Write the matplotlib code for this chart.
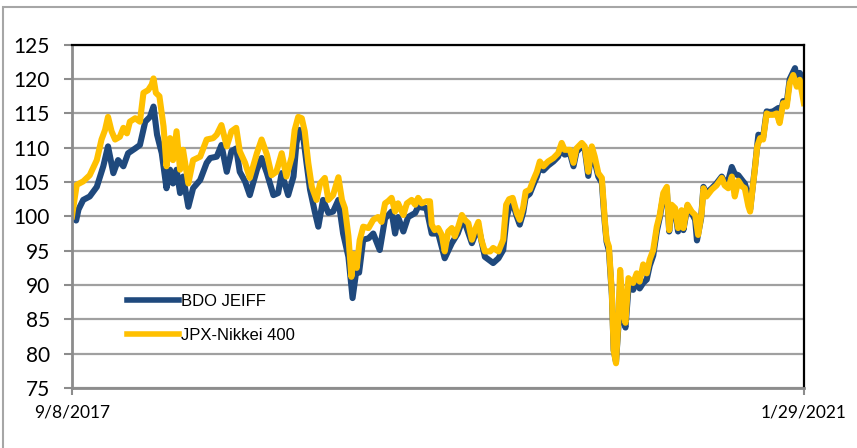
import matplotlib
matplotlib.use('Agg')
import matplotlib.pyplot as plt
import numpy as np
import pandas as pd
from matplotlib.patches import Rectangle

start = pd.Timestamp('2017-09-08')
end = pd.Timestamp('2021-01-29')
tick_labels = ['9/8/2017', '1/29/2021']

# days since 9/8/2017 (index = 100 at start)
jpx_days = [0, 8, 19, 30, 42, 50, 56, 61, 67, 73, 81, 87, 93, 98, 107, 115, 121, 129, 135, 138,
            142, 148, 155, 160, 166, 171, 177, 183, 188, 197, 205, 217, 228, 239, 245, 253, 262, 270,
            278, 284, 293, 301, 313, 321, 330, 338, 346, 355, 363, 372, 377, 383, 389, 394, 400, 406,
            414, 420, 428, 434, 442, 451, 457, 462, 468, 473, 477, 482, 487, 493, 502, 510, 518, 524,
            530, 535, 541, 547, 552, 561, 567, 575, 581, 586, 592, 600, 606, 609, 614, 620, 626, 631,
            637, 643, 648, 654, 660, 665, 671, 677, 682, 688, 693, 699, 708, 713, 722, 730, 735, 740,
            746, 753, 758, 764, 768, 775, 781, 787, 792, 798, 806, 815, 823, 829, 834, 843, 849, 854,
            863, 868, 874, 880, 885, 891, 897, 902, 905, 909, 914, 917, 921, 925, 928, 933, 937, 942,
            950, 956, 961, 967, 973, 978, 984, 990, 995, 1001, 1007, 1011, 1015, 1021, 1026, 1032, 1035,
            1042, 1049, 1055, 1060, 1066, 1069, 1074, 1083, 1091, 1100, 1105, 1111, 1117, 1122, 1128,
            1134, 1139, 1145, 1148, 1152, 1156, 1160, 1165, 1170, 1176, 1181, 1187, 1193, 1198, 1204,
            1210, 1215, 1221, 1227, 1232, 1239]
jpx_vals = [100.0, 104.6, 105.1, 106.0, 108.2, 111.2, 112.6, 114.5, 112.4, 111.2, 111.6, 112.9, 112.1,
            113.8, 114.3, 113.8, 118.0, 118.4, 119.2, 120.1, 118.0, 117.5, 113.1, 107.3, 111.4, 108.2,
            112.4, 106.8, 109.7, 104.8, 108.2, 108.7, 111.2, 111.4, 111.9, 113.3, 110.2, 112.4, 112.9,
            109.5, 107.8, 105.6, 109.2, 111.2, 109.0, 106.0, 106.5, 109.2, 105.8, 108.7, 112.6, 114.5,
            114.3, 112.4, 107.8, 104.3, 102.4, 104.8, 105.6, 102.4, 103.1, 105.7, 102.4, 101.2, 97.1,
            91.2, 94.5, 92.5, 96.5, 98.5, 98.3, 99.5, 99.9, 99.2, 101.9, 102.2, 102.7, 100.7, 101.9,
            100.2, 101.9, 102.4, 101.7, 102.7, 101.9, 102.2, 102.2, 98.8, 98.0, 98.3, 97.3, 94.9, 97.8,
            98.3, 97.1, 98.5, 100.2, 99.5, 99.0, 96.6, 98.0, 99.2, 96.6, 94.9, 94.9, 95.4, 94.9, 96.6,
            101.7, 102.5, 102.7, 100.5, 99.5, 101.4, 103.6, 103.9, 105.3, 106.5, 108.0, 107.3, 108.0,
            108.5, 109.2, 110.7, 109.7, 109.7, 107.8, 109.9, 110.7, 110.2, 106.5, 110.2, 108.7, 106.3,
            105.6, 99.5, 96.6, 95.6, 88.8, 80.5, 78.6, 84.9, 92.2, 86.0, 84.5, 91.0, 90.3, 91.7, 90.5,
            93.0, 91.7, 93.7, 95.1, 98.5, 100.2, 103.4, 104.3, 98.0, 101.7, 101.2, 98.3, 100.9, 98.3,
            101.7, 100.7, 100.2, 97.3, 100.5, 104.1, 102.9, 103.9, 104.5, 105.6, 104.5, 104.1, 105.8,
            102.9, 105.2, 104.4, 104.1, 101.5, 100.7, 103.9, 106.8, 110.2, 111.4, 111.2, 115.0, 114.8,
            114.8, 115.0, 113.6, 116.5, 116.0, 119.4, 120.6, 118.9, 119.9, 116.5]

bdo_days = [0, 7, 11, 19, 30, 42, 53, 61, 70, 78, 87, 95, 107, 115, 124, 132, 138, 144, 152, 160,
            166, 171, 177, 183, 188, 197, 205, 217, 228, 234, 245, 253, 262, 270, 278, 284, 293, 301,
            313, 321, 330, 341, 349, 355, 366, 375, 380, 385, 392, 397, 403, 411, 417, 425, 434, 442,
            451, 459, 468, 475, 482, 486, 493, 502, 510, 521, 530, 541, 547, 552, 561, 569, 581, 586,
            600, 609, 620, 631, 643, 653, 660, 667, 677, 688, 699, 713, 722, 730, 736, 740, 746, 753,
            758, 764, 768, 775, 781, 787, 792, 798, 806, 815, 823, 829, 834, 843, 849, 854, 863, 868,
            874, 880, 885, 891, 897, 902, 905, 909, 914, 917, 921, 925, 928, 933, 937, 942, 950, 956,
            961, 967, 973, 978, 984, 990, 995, 1001, 1007, 1011, 1015, 1021, 1026, 1032, 1035, 1042,
            1049, 1055, 1058, 1065, 1069, 1074, 1083, 1091, 1100, 1105, 1111, 1117, 1122, 1128, 1136,
            1139, 1145, 1148, 1152, 1156, 1162, 1170, 1176, 1181, 1187, 1196, 1198, 1204, 1210, 1215,
            1224, 1227, 1232, 1239]
bdo_vals = [100.0, 99.4, 101.0, 102.4, 102.9, 104.3, 107.3, 110.2, 106.3, 108.2, 107.3, 109.2, 109.9,
            110.4, 113.8, 114.5, 116.0, 111.9, 109.2, 104.1, 106.8, 104.8, 106.8, 103.4, 105.8, 101.4,
            104.1, 105.3, 107.8, 108.5, 108.7, 110.4, 106.5, 109.5, 109.9, 106.5, 105.1, 103.1, 106.8,
            108.5, 106.3, 103.1, 103.4, 106.3, 103.1, 105.8, 110.7, 112.6, 111.2, 107.8, 103.9, 100.7,
            98.5, 102.4, 100.5, 100.7, 102.4, 97.5, 94.1, 88.1, 92.5, 91.8, 96.6, 96.8, 97.5, 95.1,
            99.7, 100.7, 97.5, 99.9, 97.8, 99.9, 100.5, 101.4, 101.2, 97.5, 97.5, 93.9, 96.1, 97.5,
            99.2, 98.6, 96.1, 98.5, 94.1, 93.2, 93.9, 95.1, 99.9, 101.2, 102.0, 100.0, 98.8, 100.6,
            102.8, 103.3, 104.6, 105.8, 107.3, 106.7, 107.4, 108.0, 108.7, 110.2, 109.0, 109.2, 107.3,
            109.4, 110.2, 109.8, 105.9, 109.7, 108.0, 105.8, 104.9, 99.0, 96.3, 95.0, 88.5, 80.5, 78.8,
            84.0, 90.5, 85.0, 83.8, 89.5, 89.3, 90.8, 89.5, 90.3, 90.8, 92.8, 94.3, 97.8, 99.8, 103.0,
            103.8, 97.8, 101.2, 100.8, 97.8, 100.5, 98.0, 101.5, 100.5, 99.5, 96.5, 99.7, 104.3, 103.4,
            104.1, 104.8, 105.8, 105.0, 105.2, 107.2, 106.2, 106.0, 105.1, 104.8, 103.0, 101.0, 104.0,
            107.0, 111.9, 111.5, 115.3, 115.2, 115.3, 115.8, 114.5, 116.8, 116.5, 120.0, 121.6, 120.0,
            120.9, 119.9]

jpx_dates = start + pd.to_timedelta(jpx_days, unit='D')
bdo_dates = start + pd.to_timedelta(bdo_days, unit='D')

fig = plt.figure(figsize=(8.57, 4.48), dpi=100)
ax = fig.add_axes([0.084, 0.134, 0.854, 0.766])

ax.plot(bdo_dates, bdo_vals, color='#1F497D', lw=4.4, solid_joinstyle='round', label='BDO JEIFF')
ax.plot(jpx_dates, jpx_vals, color='#FFC000', lw=4.4, solid_joinstyle='round', label='JPX-Nikkei 400')

ax.set_xlim(start, end)
ax.set_ylim(75, 125)
ax.set_yticks(np.arange(75, 126, 5))
ax.set_xticks([start, end])
ax.set_xticklabels(tick_labels)

ax.yaxis.grid(True, color='#A0A0A0', lw=1.6)
ax.set_axisbelow(True)
for side in ['top', 'right']:
    ax.spines[side].set_color('black')
    ax.spines[side].set_linewidth(1.6)
for side in ['left', 'bottom']:
    ax.spines[side].set_color('#8C8C8C')
    ax.spines[side].set_linewidth(2)

ax.tick_params(axis='y', direction='out', length=6, width=1.5, color='#8C8C8C', pad=10,
               labelsize=15)
ax.tick_params(axis='x', direction='out', length=5, width=1.5, color='#8C8C8C', pad=7,
               labelsize=12.5)
for lab in ax.get_yticklabels() + ax.get_xticklabels():
    lab.set_fontfamily('Lato')

leg = ax.legend(loc='upper left', bbox_to_anchor=(0.075, 0.273), frameon=False,
                prop={'family': 'Liberation Sans', 'size': 12}, handlelength=3.1,
                handletextpad=0.15, labelspacing=1.12, borderpad=0, borderaxespad=0)
for line in leg.get_lines():
    line.set_linewidth(4)

fig.patches.append(Rectangle((3 / 857, -0.1), 1.0, 1.0844, transform=fig.transFigure,
                             fill=False, edgecolor='#A6A6A6', lw=1.5))

fig.savefig('out.png', dpi=100)
